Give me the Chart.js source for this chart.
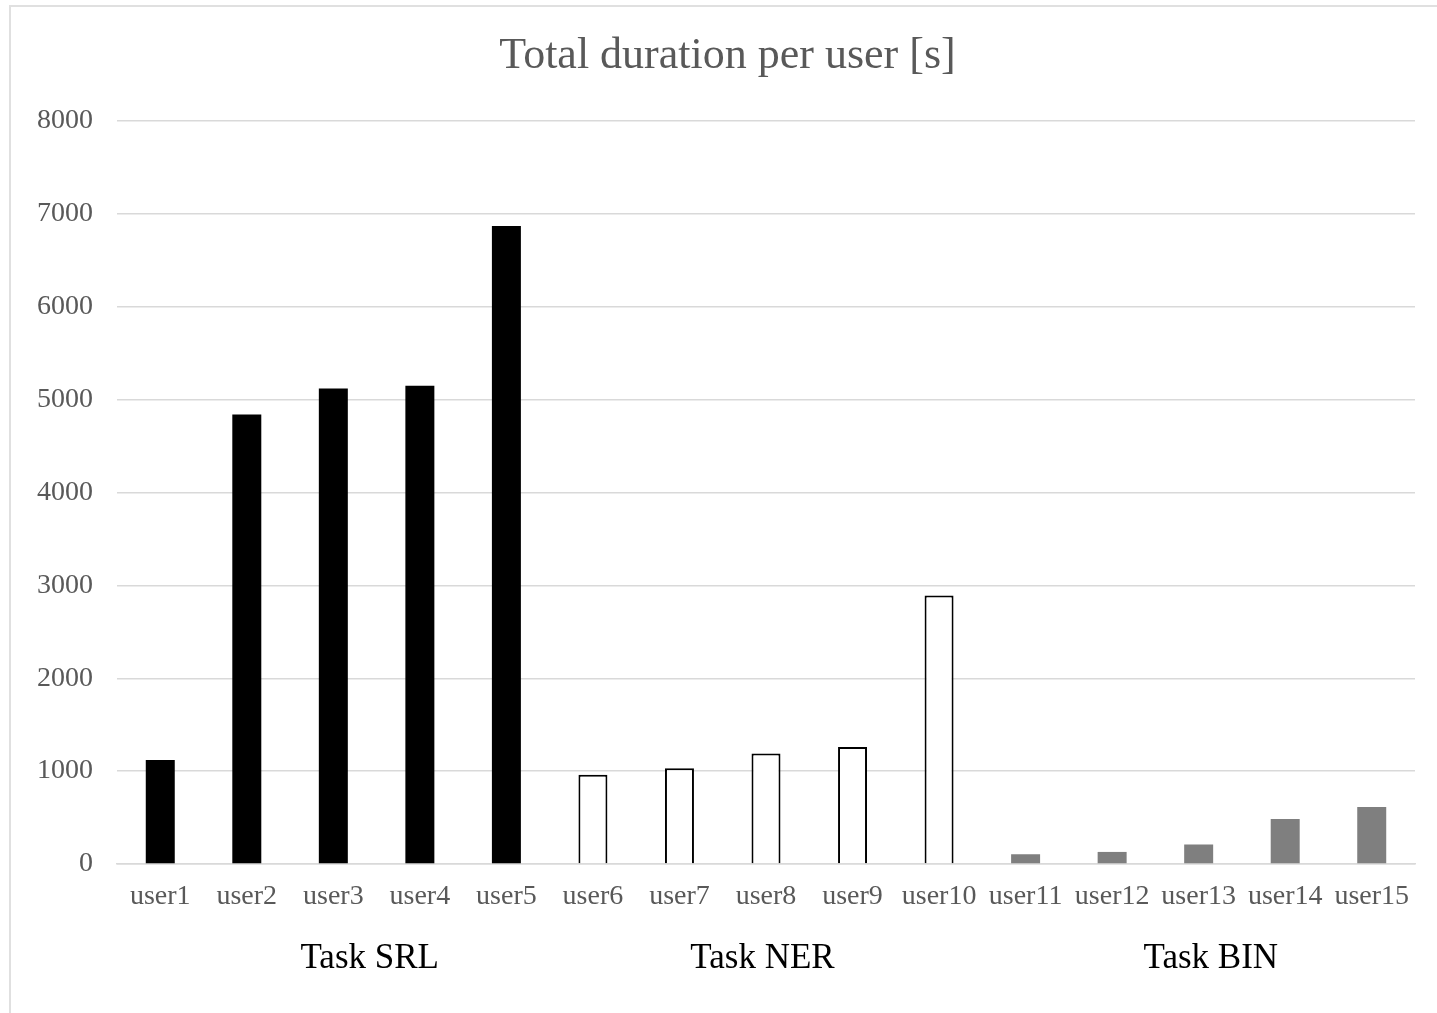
<!DOCTYPE html>
<html>
<head>
<meta charset="utf-8">
<title>Total duration per user [s]</title>
<script src="https://cdn.jsdelivr.net/npm/chart.js@4/dist/chart.umd.min.js"></script>
<style>
  html, body { margin: 0; padding: 0; background: #ffffff; overflow: hidden; }
  #wrap { position: relative; width: 1437px; height: 1013px; }
  #frame {
    position: absolute; left: 9px; top: 5px; width: 1500px; height: 1100px;
    border-left: 2px solid #e0e0e0; border-top: 2px solid #e0e0e0;
    pointer-events: none;
  }
  canvas { position: absolute; left: 0; top: 0; }
</style>
</head>
<body>
<div id="wrap">
  <canvas id="chart" width="1437" height="1013"></canvas>
  <div id="frame"></div>
</div>
<script>
// Users, in display order
const users = ['user1', 'user2', 'user3', 'user4', 'user5',
               'user6', 'user7', 'user8', 'user9', 'user10',
               'user11', 'user12', 'user13', 'user14', 'user15'];

// Total duration in seconds, per task group
const srlDurations = [1120, 4840, 5120, 5150, 6870];   // user1..user5
const nerDurations = [960, 1030, 1190, 1260, 2890];    // user6..user10
const binDurations = [105, 130, 210, 485, 615];        // user11..user15

const taskNames = ['Task SRL', 'Task NER', 'Task BIN'];
const yTicks = [0, 1000, 2000, 3000, 4000, 5000, 6000, 7000, 8000];
const chartTitle = 'Total duration per user [s]';

const SERIF = '"Liberation Serif", "Times New Roman", serif';

// Spread each group's values over the full category axis (null elsewhere)
function placeGroup(values, startIndex) {
  const out = users.map(() => null);
  values.forEach((v, i) => { out[startIndex + i] = v; });
  return out;
}

const groupStarts = [0, srlDurations.length, srlDurations.length + nerDurations.length];

// Title text, centred on the framed panel rather than the padded layout box
const panelTitle = {
  id: 'panelTitle',
  afterDraw(chart, args, opts) {
    const ctx = chart.ctx;
    ctx.save();
    ctx.font = opts.font;
    ctx.fillStyle = opts.color;
    ctx.textAlign = 'center';
    ctx.textBaseline = 'alphabetic';
    ctx.fillText(chartTitle, opts.x, opts.baseline);
    ctx.restore();
  }
};

// Group captions drawn under the user labels
const groupCaptions = {
  id: 'groupCaptions',
  afterDraw(chart, args, opts) {
    const x = chart.scales.x;
    const ctx = chart.ctx;
    ctx.save();
    ctx.font = opts.font;
    ctx.fillStyle = opts.color;
    ctx.textAlign = 'center';
    ctx.textBaseline = 'middle';
    taskNames.forEach((name, g) => {
      const a = opts.anchors[g];
      const i0 = Math.floor(a), f = a - i0;
      const p0 = x.getPixelForValue(i0);
      const p1 = x.getPixelForValue(Math.min(i0 + 1, users.length - 1));
      const px = p0 + (p1 - p0) * f;
      ctx.fillText(name, px, chart.chartArea.bottom + opts.offset);
    });
    ctx.restore();
  }
};

const barCommon = {
  grouped: false,
  categoryPercentage: 1.0,
  barPercentage: 0.335
};

new Chart(document.getElementById('chart'), {
  type: 'bar',
  data: {
    labels: users,
    datasets: [
      Object.assign({
        label: taskNames[0],
        data: placeGroup(srlDurations, groupStarts[0]),
        backgroundColor: '#000000',
        borderWidth: 0
      }, barCommon),
      Object.assign({
        label: taskNames[1],
        data: placeGroup(nerDurations, groupStarts[1]),
        backgroundColor: '#ffffff',
        borderColor: '#000000',
        borderWidth: 2
      }, barCommon),
      Object.assign({
        label: taskNames[2],
        data: placeGroup(binDurations, groupStarts[2]),
        backgroundColor: '#7f7f7f',
        borderWidth: 0
      }, barCommon)
    ]
  },
  options: {
    responsive: false,
    animation: false,
    devicePixelRatio: 1,
    layout: { padding: { left: 12, right: 22, top: 121, bottom: 0 } },
    plugins: {
      legend: { display: false },
      tooltip: { enabled: false },
      title: { display: false },
      panelTitle: {
        font: '44px ' + SERIF,
        color: '#595959',
        x: 727.5,
        baseline: 68
      },
      groupCaptions: {
        font: '35px ' + SERIF,
        color: '#000000',
        offset: 95,
        anchors: [2.42, 6.96, 12.14]
      }
    },
    scales: {
      x: {
        grid: { display: false, drawTicks: false },
        border: { display: true, color: '#d9d9d9', width: 1.5 },
        ticks: {
          color: '#595959',
          font: { family: SERIF, size: 28 },
          padding: 16,
          maxRotation: 0,
          autoSkip: false
        },
        afterFit(scale) { scale.height = 149; }
      },
      y: {
        min: 0,
        max: 8000,
        afterBuildTicks(scale) { scale.ticks = yTicks.map(v => ({ value: v })); },
        grid: { color: '#d9d9d9', lineWidth: 1.5, drawTicks: false },
        border: { display: false },
        ticks: {
          color: '#595959',
          font: { family: SERIF, size: 28 },
          padding: 24,
          callback: (value) => String(value)
        },
        afterFit(scale) { scale.width = 105; }
      }
    }
  },
  plugins: [panelTitle, groupCaptions]
});
</script>
</body>
</html>
